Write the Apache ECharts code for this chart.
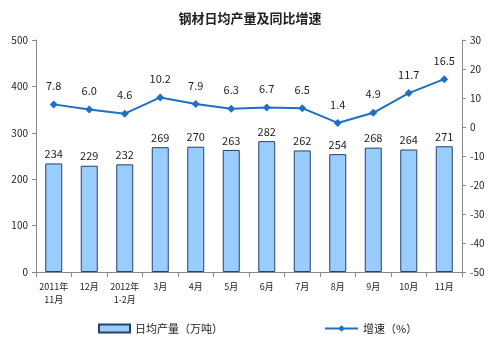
<html>
<head>
<meta charset="utf-8">
</head>
<body style="margin:0">
<script src="https://cdn.jsdelivr.net/npm/echarts@6/dist/echarts.min.js"></script>
<div id="main" style="width:500px;height:354px"></div>
<script>
var months = ['2011年\n11月', '12月', '2012年\n1-2月', '3月', '4月', '5月', '6月', '7月', '8月', '9月', '10月', '11月'];
var dailyOutput = [234, 229, 232, 269, 270, 263, 282, 262, 254, 268, 264, 271];
var growth = [7.8, 6.0, 4.6, 10.2, 7.9, 6.3, 6.7, 6.5, 1.4, 4.9, 11.7, 16.5];

var myChart = echarts.init(document.getElementById('main'));
var font = 'SimSun, "Noto Sans CJK SC", sans-serif';

var option = {
    backgroundColor: '#fff',
    animation: false,
    title: {
        text: '钢材日均产量及同比增速',
        left: 'center',
        top: 7,
        textStyle: { fontSize: 13, fontWeight: 'bold', color: '#222', fontFamily: '"Noto Sans CJK SC", sans-serif' }
    },
    legend: [{
        data: [{ name: '日均产量（万吨）', icon: 'rect' }],
        left: 93, top: 318,
        itemWidth: 31, itemHeight: 8,
        textStyle: { fontSize: 11, color: '#222', fontFamily: font }
    }, {
        data: ['增速（%）'],
        left: 319, top: 318,
        itemWidth: 33, itemHeight: 8,
        textStyle: { fontSize: 11, color: '#222', fontFamily: font }
    }],
    grid: { left: 36, right: 38, top: 40, bottom: 82 },
    xAxis: {
        type: 'category',
        data: months,
        axisLine: { lineStyle: { color: '#888' } },
        axisTick: { show: true, interval: 0, length: 5, lineStyle: { color: '#888' } },
        axisLabel: { interval: 0, fontSize: 9, color: '#222', margin: 8, lineHeight: 13, fontFamily: font }
    },
    yAxis: [{
        type: 'value', min: 0, max: 500, interval: 100,
        axisLine: { show: true, lineStyle: { color: '#888' } },
        axisTick: { show: true, length: 4, lineStyle: { color: '#888' } },
        splitLine: { show: false },
        axisLabel: { fontSize: 10, color: '#222', margin: 8, fontFamily: font }
    }, {
        type: 'value', min: -50, max: 30, interval: 10,
        axisLine: { show: true, lineStyle: { color: '#888' } },
        axisTick: { show: true, length: 4, lineStyle: { color: '#888' } },
        splitLine: { show: false },
        axisLabel: { fontSize: 10, color: '#222', margin: 8, fontFamily: font }
    }],
    series: [{
        name: '日均产量（万吨）',
        type: 'bar',
        data: dailyOutput,
        barWidth: 17,
        itemStyle: { color: '#99ccff', borderColor: '#24406c', borderWidth: 1 },
        label: { show: true, position: 'top', fontSize: 11, color: '#222', distance: 4, fontFamily: font }
    }, {
        name: '增速（%）',
        type: 'line',
        yAxisIndex: 1,
        data: growth,
        symbol: 'diamond',
        symbolSize: 8,
        lineStyle: { color: '#1f6fc4', width: 2 },
        itemStyle: { color: '#1f6fc4' },
        label: {
            show: true, position: 'top', distance: 9, fontSize: 11, color: '#222', fontFamily: font,
            formatter: function (p) { return p.value.toFixed(1); }
        }
    }]
};

myChart.setOption(option);
</script>
</body>
</html>
